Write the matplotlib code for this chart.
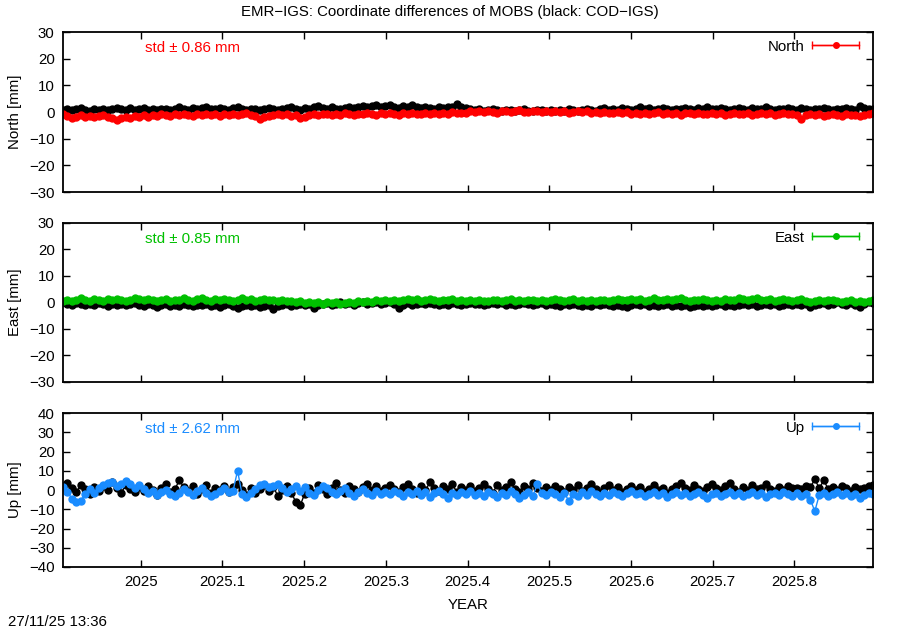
#!/usr/bin/python
import numpy as np
import matplotlib
matplotlib.use("Agg")
import matplotlib.pyplot as plt
from matplotlib.container import ErrorbarContainer
from matplotlib.legend_handler import HandlerErrorbar

plt.rcParams['font.family'] = ['Liberation Sans', 'DejaVu Sans']
plt.rcParams['font.size'] = 10.8

# solutions every second day, starting 2024.905
t_start = 2024.905
step_days = 2

north_cod = [
    0.8, 1.2, 0.6, 1.0, 1.4, 0.9, 0.5, 1.1, 0.8, 1.3, 0.7, 1.0, 1.6, 1.2, 0.9, 1.4, 0.8, 1.1,
    1.5, 0.9, 1.2, 0.7, 1.0, 1.3, 0.8, 1.1, 1.7, 1.2, 0.9, 1.4, 1.0, 1.6, 1.9, 1.3, 1.1, 1.5,
    1.2, 0.8, 1.4, 1.9, 1.1, 0.7, 1.0, 1.3, 0.9, 1.2, 1.6, 1.0, 0.6, 1.1, 1.4, 1.8, 1.2, 0.8, 1.5,
    1.0, 1.7, 2.2, 1.4, 1.1, 1.8, 1.3, 1.0, 1.6, 2.0, 1.5, 1.9, 2.4, 1.7, 2.1, 2.6, 1.8, 2.3,
    2.8, 2.0, 1.6, 2.2, 1.7, 2.5, 1.9, 1.4, 2.0, 1.6, 1.3, 1.8, 1.5, 2.0, 1.7, 2.9, 1.9, 1.4,
    1.0, 0.7, 1.2, 0.5, 0.8, 1.1, 0.6, 0.3, 0.7, 0.9, 0.4, 0.8, 1.1, 0.5, 0.2, 0.6, 0.9, 0.4, 0.7,
    0.3, 0.8, 0.5, 1.0, 0.6, 0.2, 0.7, 1.2, 0.8, 0.5, 1.0, 1.4, 0.9, 1.2, 0.7, 1.5, 1.1, 0.8,
    1.3, 1.7, 1.0, 1.4, 0.9, 1.2, 1.6, 1.1, 0.8, 1.3, 1.0, 1.5, 1.2, 0.9, 1.4, 1.1, 1.7, 1.3,
    1.0, 1.5, 1.2, 0.8, 1.3, 1.6, 1.1, 0.9, 1.4, 1.0, 1.2, 1.7, 1.1, 0.8, 1.3, 1.0, 1.5, 1.2,
    0.9, 1.4, 1.1, 0.7, 1.2, 1.0, 1.5, 1.1, 0.8, 1.3, 1.0, 1.6, 1.2, 0.9, 2.4, 1.5, 1.1, 1.3,
]
north_emr = [
    -0.8, -1.5, -2.2, -1.8, -1.2, -1.9, -1.4, -2.0, -1.6, -1.1, -1.8, -2.4, -3.0, -2.3, -1.7, -2.1, -1.5, -1.9,
    -1.3, -1.7, -1.0, -1.4, -0.8, -1.2, -1.6, -0.9, -1.3, -0.7, -1.1, -1.5, -0.8, -1.0, -0.6, -1.2, -0.9, -1.4,
    -0.7, -1.1, -0.8, -1.3, -0.9, -0.5, -1.0, -1.6, -2.6, -2.0, -1.4, -1.0, -0.7, -1.2, -0.8, -1.5, -1.1, -2.4, -1.7,
    -1.2, -0.8, -1.1, -0.6, -0.9, -1.3, -0.7, -1.0, -0.5, -0.8, -1.2, -0.6, -0.9, -0.4, -0.7, -1.0, -0.5, -0.8,
    -0.3, -0.7, -1.0, -0.5, -0.8, -0.4, -0.9, -0.6, -0.2, -0.7, -0.4, -0.8, -0.3, -0.6, -0.1, -0.5, -0.2, -0.4,
    0.2, -0.1, 0.3, 0.0, 0.4, 0.1, -0.2, 0.2, 0.5, 0.0, 0.3, 0.6, 0.1, -0.1, 0.2, 0.4, 0.0, 0.3, -0.1,
    0.2, 0.0, 0.3, -0.2, 0.1, 0.4, -0.1, 0.2, -0.3, 0.0, -0.4, 0.1, -0.2, -0.5, -0.1, -0.3, 0.0, -0.6,
    -0.3, -0.7, -0.2, -0.9, -0.5, -0.1, -0.6, -0.4, -0.8, -0.3, -1.0, -0.5, -0.2, -0.7, -0.4, -0.9, -0.6, -0.3,
    -0.8, -0.5, -1.1, -0.6, -0.3, -0.9, -0.7, -0.4, -1.0, -0.6, -0.2, -0.8, -0.5, -1.2, -0.7, -0.4, -0.9, -0.6,
    -1.0, -2.6, -1.3, -0.8, -1.1, -0.6, -1.4, -1.0, -0.7, -1.2, -1.5, -0.9, -1.3, -1.0, -1.6, -1.1, -0.8, -0.5,
]
east_cod = [
    0.3, -0.4, -0.8, -0.2, -0.6, -1.0, -0.5, -0.9, -0.3, -0.7, -1.2, -0.6, -0.9, -0.4, -1.1, -0.7, -0.3, -0.8,
    -1.3, -0.6, -1.0, -1.7, -1.1, -0.7, -1.4, -0.9, -1.2, -0.5, -1.0, -1.5, -0.8, -1.1, -0.6, -1.3, -0.9, -1.6,
    -1.0, -0.6, -1.3, -2.2, -1.2, -0.8, -1.5, -1.0, -1.8, -1.3, -0.9, -2.3, -1.4, -1.0, -0.6, -1.2, -0.8, -0.4, -1.0,
    -0.5, -2.0, -1.1, -0.7, -0.3, -0.9, -0.4, 0.0, -0.6, -0.2, -0.8, -0.3, 0.2, -0.4, -0.1, 0.3, -0.5, -0.2,
    0.1, -0.4, -2.0, -0.8, -0.3, -0.9, -0.5, -0.1, -0.6, -0.2, -0.7, -1.1, -0.4, -0.8, -0.3, -0.6, -1.0, -0.5,
    -0.2, -0.7, -0.4, -0.9, -0.5, -0.1, -0.6, -0.3, -0.8, -0.4, -0.9, -0.5, -0.2, -0.7, -1.0, -0.6, -0.3, -0.8, -0.5,
    -0.9, -1.3, -0.7, -1.1, -0.6, -1.0, -1.4, -0.8, -1.2, -0.7, -1.0, -0.5, -0.9, -1.3, -0.8, -1.2, -1.6, -1.0,
    -0.6, -1.1, -0.7, -1.3, -0.9, -1.5, -1.0, -0.6, -1.2, -0.8, -1.4, -1.0, -1.7, -1.2, -0.8, -1.3, -0.9, -1.5,
    -1.1, -0.7, -1.2, -0.8, -1.4, -1.0, -0.6, -1.1, -0.7, -1.3, -0.9, -0.5, -1.0, -0.6, -1.2, -0.8, -0.4, -0.9,
    -0.5, -1.1, -0.7, -1.8, -1.0, -0.6, -0.2, -0.8, -0.4, 0.2, -0.5, -1.0, -0.3, -0.8, -1.7, -0.4, 0.3, -0.2,
]
east_emr = [
    0.6, 1.0, 0.4, 0.8, 1.5, 1.1, 0.7, 1.3, 0.9, 0.5, 1.2, 0.8, 1.4, 1.0, 0.6, 1.1, 1.7, 1.2,
    0.8, 1.3, 0.9, 0.5, 1.0, 1.4, 0.7, 1.1, 0.8, 1.5, 1.0, 0.6, 1.2, 1.7, 1.1, 0.7, 1.3, 0.9,
    1.4, 1.0, 0.6, 1.1, 1.6, 0.9, 1.2, 0.7, 1.0, 1.3, 0.8, 1.1, 0.5, 0.9, 0.4, 0.7, 0.2, 0.5, -0.1,
    0.3, -0.2, 0.1, -0.4, 0.0, -0.3, 0.2, -0.5, -0.1, 0.3, -0.2, 0.4, 0.1, 0.6, 0.3, 0.8, 0.5, 1.0,
    0.7, 1.1, 0.6, 0.9, 1.3, 0.8, 1.2, 0.7, 1.0, 1.4, 0.9, 0.6, 1.1, 0.8, 1.2, 0.7, 1.0, 0.5,
    0.9, 0.6, 1.0, 0.7, 0.4, 0.8, 1.1, 0.6, 0.9, 1.2, 0.7, 1.0, 0.5, 0.8, 1.1, 0.7, 1.0, 0.6, 0.9,
    1.2, 0.8, 0.5, 0.9, 1.3, 0.7, 1.0, 0.6, 0.9, 0.5, 0.8, 1.1, 0.6, 0.9, 1.2, 0.8, 1.0, 1.4,
    0.9, 1.2, 0.7, 1.0, 1.5, 1.1, 0.8, 1.3, 0.9, 1.2, 1.6, 1.0, 0.7, 1.1, 0.8, 1.3, 0.9, 0.6,
    1.0, 0.7, 1.2, 0.8, 1.1, 1.5, 1.2, 0.9, 1.3, 1.7, 1.1, 0.8, 1.2, 0.6, 0.9, 1.3, 0.8, 0.5,
    0.9, 1.2, 0.6, 0.3, 0.7, 1.0, 0.5, 0.8, 1.1, 0.6, 0.2, 0.5, 0.8, 0.3, 0.6, 0.1, 0.4, 0.8,
]
up_cod = [
    2.0, 3.5, 1.0, -1.0, 2.5, 0.5, -2.0, 1.5, -0.5, 2.0, 0.0, 4.0, 1.0, -1.5, 2.5, 0.5, -1.0, 1.5,
    -0.5, 2.0, 0.0, -2.5, 1.0, 3.0, -1.0, 0.5, 5.0, 1.5, -0.5, 2.0, -2.0, 0.5, 2.5, -1.5, 1.0, 0.0,
    2.0, -1.0, 1.5, 3.0, 0.0, -2.5, 1.0, -1.5, 0.5, 2.5, -0.5, 1.5, -3.0, 0.0, 2.0, -1.5, -6.0, -8.0, -2.0,
    1.0, -1.5, 2.5, 0.5, -2.0, 1.0, 3.5, 0.0, -1.5, 2.0, 0.5, -1.0, 1.5, 3.0, 0.0, 2.0, -0.5, 1.0,
    2.5, 0.5, -1.0, 1.5, 3.0, 0.5, -1.5, 2.0, 0.0, 4.0, 1.0, -0.5, 2.0, 0.5, 3.0, -1.0, 1.5, 0.0,
    2.0, -0.5, 1.0, 3.0, 0.5, -1.5, 2.5, 0.0, 1.5, 4.0, 0.5, -1.0, 2.0, 0.5, 3.5, 1.0, -0.5, 1.5, 0.0,
    2.0, 0.5, -1.0, 1.5, 0.0, 2.5, -0.5, 1.0, 3.0, 0.5, -1.5, 1.0, 2.5, 0.0, 1.5, -1.0, 0.5, 2.0,
    0.0, 1.5, -1.0, 0.5, 2.5, 0.0, 1.0, -1.5, 0.5, 2.0, 3.5, 1.0, 0.0, 2.5, 0.5, -0.5, 1.5, 3.0,
    1.0, 0.0, 2.0, 3.5, 0.5, -1.0, 1.5, 0.0, 2.5, 0.5, 1.0, 3.0, 0.5, -0.5, 1.5, 0.0, 2.0, 1.0,
    1.0, 0.5, 2.0, 1.5, 5.5, 1.0, 5.0, 0.5, 1.5, 0.0, 2.0, 1.0, -0.5, 1.5, 0.5, 1.0, 2.0, 2.5,
]
up_emr = [
    1.5, -1.0, -4.5, -6.0, -5.5, -2.0, 0.5, -1.5, 1.0, 2.5, 3.5, 4.0, 2.0, 3.0, 4.5, 3.0, 1.0, 2.5,
    0.5, -1.5, -0.5, -2.5, -1.0, 0.0, -2.0, -3.0, -1.5, 0.5, -1.0, -2.5, -0.5, 1.0, -1.5, -3.0, -2.0, -0.5,
    1.0, -1.0, -0.5, 10.0, -2.0, -3.5, -1.5, 0.5, 2.5, 3.0, 1.5, 2.0, 3.0, 1.0, -1.0, 0.5, 2.0, -0.5, 1.5,
    -1.5, -2.5, 0.0, 2.0, 1.0, -1.0, -2.0, -0.5, 1.0, -1.5, -3.0, -1.0, 0.5, -1.5, -2.5, -0.5, -2.0, -1.0,
    -2.0, -0.5, -1.5, -3.0, -1.0, -2.0, -0.5, -2.5, -1.0, -3.5, -1.5, -0.5, -2.0, -4.0, -1.5, -2.5, -1.0, -2.0,
    -0.5, -2.5, -1.5, -3.0, -1.0, -2.0, -3.5, -1.5, -2.5, -0.5, -2.0, -4.0, -2.5, -1.0, -3.0, 3.0, -1.5, -2.5, -1.0,
    -2.0, -3.5, -1.5, -5.5, -2.0, -3.0, -1.0, -2.5, -0.5, -2.0, -3.0, -1.5, -2.5, -1.0, -2.0, -3.0, -1.5, -0.5,
    -2.0, -1.5, -3.0, -2.0, -1.0, -2.5, -1.5, -3.5, -2.0, -1.0, -2.5, -1.5, -3.0, -2.0, -1.0, -2.5, -4.0, -2.0,
    -1.5, -3.0, -2.0, -1.0, -2.5, -1.5, -3.0, -2.0, -1.0, -2.5, -1.5, -3.5, -2.0, -1.5, -2.5, -1.0, -2.0, -3.0,
    -1.5, -3.0, -2.0, -5.0, -11.0, -2.5, -1.5, -3.0, -2.0, -1.0, -2.5, -1.5, -3.0, -2.0, -4.0, -2.5, -1.5, -2.0,
]

components = ['North', 'East', 'Up']
std_labels = ['0.86', '0.85', '2.62']
colors = ['#ff0000', '#00c000', '#1a8cff']
ylims = [(-30, 30), (-30, 30), (-40, 40)]
xticks = [2025.0, 2025.1, 2025.2, 2025.3, 2025.4, 2025.5, 2025.6, 2025.7, 2025.8]
xticklabels = ['2025', '2025.1', '2025.2', '2025.3', '2025.4', '2025.5', '2025.6', '2025.7', '2025.8']

cod_series = [north_cod, east_cod, up_cod]
emr_series = [north_emr, east_emr, up_emr]

n = len(north_cod)
t = t_start + np.arange(n) * step_days / 365.25

fig = plt.figure(figsize=(9, 6.3), dpi=100)
boxes = [(0.07, 0.6952, 0.9, 0.254),
         (0.07, 0.3937, 0.9, 0.2524),
         (0.07, 0.1000, 0.9, 0.2444)]

for k in range(3):
    ax = fig.add_axes(boxes[k])
    c = colors[k]
    ax.plot(t, cod_series[k], '-o', color='black', ms=5, lw=1.0)
    ax.plot(t, emr_series[k], '-o', color=c, ms=5, lw=1.0)

    ax.set_xlim(t[0], t[-1])
    ax.set_ylim(*ylims[k])
    ax.set_yticks(np.arange(ylims[k][0], ylims[k][1] + 1, 10))
    ax.set_xticks(xticks)
    if k == 2:
        ax.set_xticklabels(xticklabels)
        ax.set_xlabel('YEAR', labelpad=6)
    else:
        ax.set_xticklabels([])
    ax.tick_params(direction='in', top=True, right=True, length=5, width=1, pad=6)
    for sp in ax.spines.values():
        sp.set_linewidth(1.3)
    ax.set_ylabel(components[k] + ' [mm]')
    ax.yaxis.set_label_coords(-0.051, 0.5)

    ax.text(0.101, 0.897, 'std \u00b1 ' + std_labels[k] + ' mm', color=c,
            transform=ax.transAxes, ha='left', va='center')

    eb = ax.errorbar([np.nan], [np.nan], xerr=[1], fmt='-o', color=c, ms=4,
                     lw=1.0, capsize=3, label=components[k])
    ax.legend(handles=[eb], loc='upper right', bbox_to_anchor=(0.99, 0.99),
              frameon=False, markerfirst=False, borderaxespad=0,
              handlelength=3.1, handletextpad=0.5,
              handler_map={ErrorbarContainer: HandlerErrorbar(xerr_size=1.55)})

fig.text(0.5, 0.981, 'EMR\u2212IGS: Coordinate differences of MOBS (black: COD\u2212IGS)',
         ha='center', va='center')
fig.text(0.009, 0.0127, '27/11/25 13:36', ha='left', va='center')

fig.savefig('out.png', dpi=100)
